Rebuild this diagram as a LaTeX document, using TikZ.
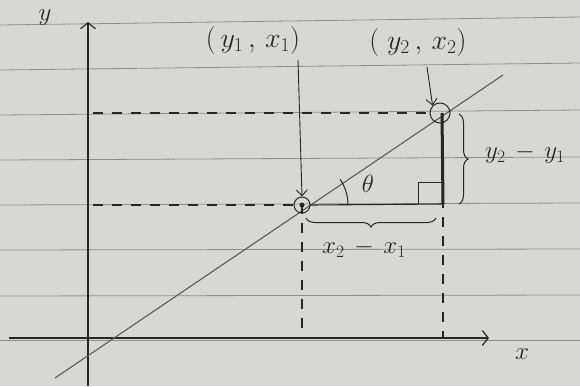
\RequirePackage{fix-cm}
\documentclass[tikz,border=0pt]{standalone}
\usetikzlibrary{decorations.pathreplacing,arrows.meta,calc}
\definecolor{paper}{HTML}{D8D7D3}
\definecolor{ruleline}{HTML}{8E8E8C}
\definecolor{ink}{HTML}{262626}
\definecolor{pencil}{HTML}{5A5A5A}
\begin{document}
\begin{tikzpicture}[x=1pt,y=-1pt,
  axis/.style={ink,line width=1.2pt,-{Straight Barb[length=6pt,width=15pt]}},
  dashline/.style={ink,line width=1.1pt,dash pattern=on 10pt off 9pt},
  pointer/.style={ink,line width=0.9pt,-{Straight Barb[length=6pt,width=11pt]}},
  pt/.style={circle,draw=ink,line width=1pt,inner sep=0pt},
  lab/.style={ink,inner sep=1pt,font=\fontsize{25}{28}\selectfont},
  biglab/.style={ink,inner sep=1pt,font=\fontsize{28}{32}\selectfont},
  bracestyle/.style={ink,line width=1pt,decorate,decoration={brace,amplitude=9pt}}]
\fill[paper] (0,0) rectangle (580,386);
\useasboundingbox (0,0) rectangle (580,386);
% ruled paper lines
\foreach \ya/\yb in {25/17,70/63,115/110,160/157,205/203,250/249,296/295,340/340}
  \draw[ruleline,line width=0.8pt] (0,\ya) -- (580,\yb);
% axes
\coordinate (yb) at (88,386);
\coordinate (yt) at (88,22);
\coordinate (xl) at (9,338);
\coordinate (xr) at (489,338);
\draw[axis] (yb) -- (yt);
\draw[axis] (xl) -- (xr);
\node[lab] (ylab) at (45,18) {$y$};
\node[lab] (xlab) at (522,354) {$x$};
% the line
\coordinate (dl) at (55,378);
\coordinate (dr) at (503,75);
\draw[pencil,line width=1.1pt] (dl) -- (dr);
% points
\node[pt,minimum size=16pt] (P1) at (302,205) {};
\fill[ink] (P1) circle[radius=2.5pt];
\node[pt,minimum size=20pt] (P2) at (440,113) {};
% corner
\coordinate (C) at (443,204);
\draw[ink,line width=1.1pt] (P1.east) -- (C);
\draw[ink,line width=3pt] ([xshift=2pt]P2.center) -- (C);
\draw[ink,line width=1pt] ($(C)+(-25,0)$) -- ($(C)+(-25,-22)$) -- ($(C)+(0,-22)$);
% dashed guides
\draw[dashline] ([xshift=5pt]yb |- P1) -- (P1.west);
\draw[dashline] ([xshift=5pt]yb |- P2) -- (P2.west);
\draw[dashline] ([yshift=10pt]P1.south) -- (P1 |- xl);
\draw[dashline] ([yshift=6pt]C) -- (C |- xl);
% angle
\draw[ink,line width=1pt] ($(P1)+(46,0)$) arc[start angle=0,end angle=-34,radius=46];
\node[lab] (th) at (368,184) {$\theta$};
% braces
\coordinate (bxr) at (436,218);
\coordinate (bxl) at (306,218);
\draw[bracestyle] (bxr) -- (bxl);
\node[lab] (dx) at (364,248) {$x_2\,-\,x_1$};
\coordinate (byt) at (459,114);
\coordinate (byb) at (459,204);
\draw[bracestyle] (byt) -- (byb);
\node[lab] (dy) at (525,154) {$y_2\,-\,y_1$};
% point labels and pointers
\node[biglab] (L1) at (253,40) {$(\,y_1\,,\,x_1)$};
\node[biglab] (L2) at (418,42) {$(\;y_2\,,\,x_2)$};
\coordinate (a1) at (298,60);
\coordinate (a2) at (427,67);
\draw[pointer] (a1) -- (P1.north);
\draw[pointer] (a2) -- (P2.north west);
\end{tikzpicture}
\end{document}
